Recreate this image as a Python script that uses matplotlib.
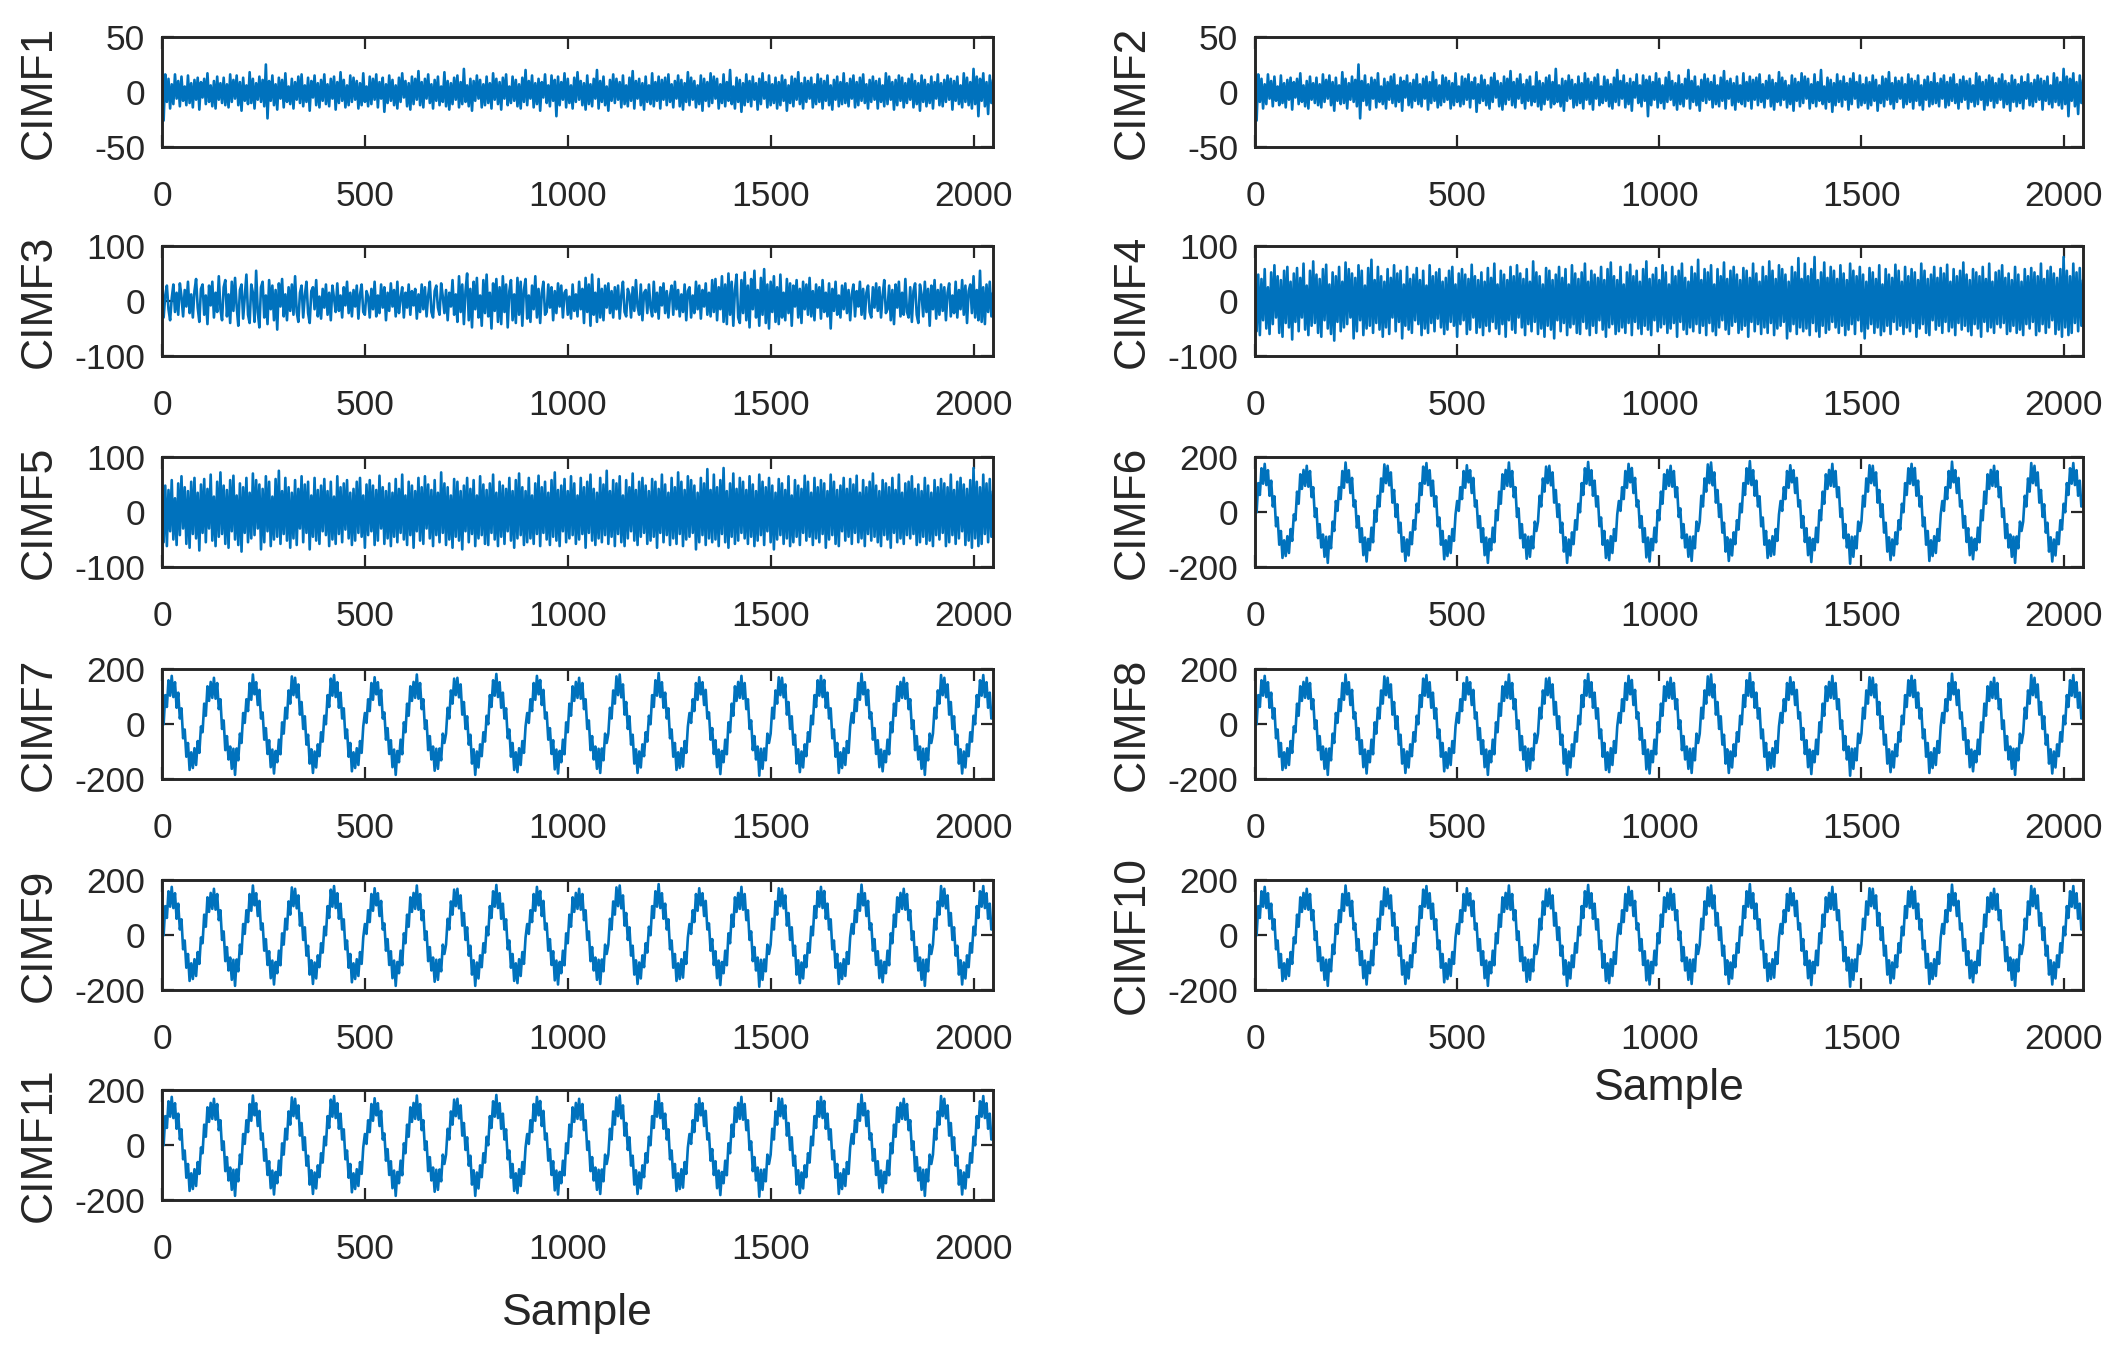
import numpy as np
import matplotlib.pyplot as plt

# sample spacing of the hand-read value lists
STEP = 4

# CIMF1 / CIMF2 (they look the same in the figure), one value every 4 samples
cimf12_vals = [
    22, -26, 16, -9, 12, -15, 7, -11, 16, -6, 10, -13, 14, -8, 5, -12, 15, -10, 8, -14,
    11, -7, 13, -16, 9, -5, 12, -11, 17, -9, 6, -13, 10, -15, 14, -7, 8, -10, 13, -12,
    7, -14, 16, -9, 11, -6, 15, -12, 9, -17, 13, -8, 6, -11, 18, -10, 12, -15, 8, -7,
    14, -9, 11, -13, 25, -24, 10, -8, 15, -12, 7, -16, 13, -6, 11, -14, 17, -9, 5, -11,
    12, -15, 9, -7, 14, -10, 16, -13, 6, -9, 13, -17, 10, -5, 15, -12, 8, -14, 11, -8,
    16, -11, 7, -13, 12, -6, 14, -16, 9, -10, 18, -8, 11, -14, 6, -12, 15, -9, 13, -7,
    10, -15, 8, -12, 17, -9, 5, -13, 14, -11, 12, -7, 16, -14, 9, -6, 13, -18, 7, -10,
    15, -8, 11, -12, 6, -15, 13, -9, 17, -5, 10, -13, 8, -16, 14, -11, 12, -7, 19, -12,
    9, -14, 12, -6, 16, -10, 7, -15, 11, -8, 14, -12, 5, -9, 18, -13, 10, -16, 8, -11,
    13, -7, 15, -14, 9, -11, 21, -9, 6, -13, 12, -17, 10, -8, 15, -6, 11, -14, 7, -12,
    14, -10, 8, -15, 17, -7, 12, -11, 9, -16, 13, -6, 16, -12, 5, -10, 14, -8, 11, -13,
    7, -15, 13, -9, 20, -12, 10, -6, 15, -14, 8, -11, 12, -17, 9, -5, 16, -10, 6, -13,
    15, -8, 11, -22, 14, -12, 9, -7, 17, -14, 12, -10, 6, -15, 13, -9, 18, -7, 10, -12,
    8, -16, 15, -11, 7, -13, 12, -6, 20, -15, 10, -9, 14, -12, 5, -17, 11, -8, 16, -10,
    12, -7, 9, -14, 15, -11, 6, -13, 13, -8, 19, -15, 10, -6, 12, -12, 8, -16, 14, -9,
    6, -11, 17, -13, 9, -8, 14, -15, 11, -7, 13, -12, 16, -9, 7, -14, 10, -6, 15, -13,
    11, -16, 8, -9, 18, -12, 13, -7, 10, -14, 6, -11, 15, -17, 12, -8, 9, -13, 17, -10,
    14, -6, 12, -15, 7, -10, 16, -13, 9, -8, 20, -11, 5, -15, 13, -9, 11, -18, 8, -12,
    16, -9, 10, -13, 14, -7, 8, -16, 12, -11, 17, -6, 9, -14, 15, -12, 7, -10, 13, -15,
    9, -12, 15, -8, 11, -17, 6, -10, 14, -13, 12, -7, 18, -11, 8, -15, 13, -9, 10, -6,
    13, -14, 7, -11, 16, -9, 12, -15, 10, -8, 15, -12, 6, -16, 11, -7, 14, -13, 9, -11,
    17, -10, 8, -13, 12, -6, 15, -14, 9, -12, 13, -8, 16, -10, 7, -15, 11, -9, 14, -7,
    10, -15, 12, -9, 6, -13, 17, -11, 14, -7, 9, -16, 11, -12, 15, -8, 13, -14, 8, -10,
    12, -7, 16, -14, 10, -11, 8, -17, 15, -9, 11, -13, 7, -10, 14, -15, 9, -6, 16, -12,
    8, -13, 11, -9, 15, -7, 12, -16, 10, -8, 14, -11, 6, -14, 17, -9, 13, -12, 9, -15,
    21, -11, 14, -22, 12, -8, 17, -13, 9, -20, 15, -10, 11, -7, 13, -9, 12, -14, 10, -8,
]

# CIMF3, one value every 4 samples
cimf3_vals = [
    25, -30, 10, 28, -15, -35, 5, 30, -20, 15, -25, 32, 8, -28, 20, -10, 35, -22, 12, -30,
    18, 40, -12, -38, 22, 30, -25, 10, -42, 28, -8, 35, -30, 15, -20, 45, -15, -35, 25, 38,
    -28, 12, -40, 35, -18, 42, -10, -45, 20, 30, -32, 8, 48, -25, -40, 30, 15, -38, 55, -20,
    -48, 25, 35, -30, 10, -42, 38, -15, 28, -35, 20, -52, 32, -10, 40, -28, 12, -35, 25, -18,
    30, -25, 45, -20, -38, 15, 28, -30, 10, 35, -22, -40, 18, 25, -15, 38, -28, 8, -32, 22,
    -12, 30, -25, 15, -35, 28, 5, -20, 32, -18, 10, -30, 25, -8, 35, -22, 15, -28, 20, -10,
    28, -32, 12, 30, -20, -25, 18, 8, -30, 22, -15, 35, -28, 10, -22, 30, -12, 25, -35, 15,
    -18, 32, -10, 20, -28, 35, -22, 5, 25, -30, 15, -12, 30, -25, 18, -8, 22, -32, 12, -20,
    30, -15, 25, -28, 10, 35, -20, -30, 18, 28, -12, -25, 32, 8, -22, 20, -35, 15, -10, 38,
    -25, 12, -38, 45, -20, 30, -42, 18, 50, -35, 22, -48, 35, -15, 42, -30, 10, -45, 38, -22,
    48, -28, 15, -50, 32, -18, 40, -38, 25, -42, 45, -20, 30, -48, 18, 38, -35, 12, -40, 42,
    -25, 35, -45, 20, 40, -32, 10, -38, 28, -15, 45, -30, 22, -40, 15, 35, -25, -20, 30, -12,
    25, -35, 18, -22, 32, -10, 28, -30, 15, 20, -25, 8, -32, 30, -18, 12, -28, 35, -15, 22,
    -40, 42, -20, 30, -45, 48, -25, 15, -38, 40, -30, 22, -35, 28, -12, 32, -22, 18, -30, 25,
    -15, 28, -32, 10, 35, -20, -28, 22, 12, -30, 25, -18, 38, -10, -25, 30, -35, 15, 20, -22,
    30, -12, -28, 35, -20, 15, -32, 25, -8, 32, -22, 18, -30, 10, 28, -25, 35, -15, 20, -28,
    12, -20, 30, -35, 18, 25, -30, 10, -22, 35, -15, 28, -32, 20, -10, 32, -25, 15, -28, 38,
    -20, 40, -35, 25, -15, 45, -38, 30, -42, 50, -25, 35, -45, 20, 48, -30, -40, 38, -22, 52,
    -35, 28, -48, 40, -15, 55, -30, 20, -45, 42, -25, 58, -40, 30, -50, 35, -20, 45, -38, 25,
    -42, 48, -30, 15, -35, 40, -22, 32, -45, 28, -10, 38, -30, 22, -40, 35, -15, 30, -25, 42,
    -28, 18, -35, 30, -12, 25, -32, 38, -20, 15, -28, 32, -50, 22, -18, 35, -25, 10, -30, 28,
    -15, 32, -22, 20, -35, 12, 30, -28, 18, -10, 35, -25, 22, -32, 15, 28, -20, -30, 25, -12,
    32, -18, 25, -30, 10, 38, -22, -15, 28, -35, 20, -42, 30, -12, 35, -28, 15, -25, 40, -20,
    -30, 25, -38, 18, 32, -25, -40, 30, 12, -28, 35, -20, 22, -45, 28, -15, 38, -32, 20, -25,
    30, -18, 25, -35, 15, 32, -28, 10, -22, 35, -30, 20, -15, 38, -25, 28, -40, 18, 30, -22,
    45, -30, 20, -35, 55, -38, 25, -42, 30, -20, 35, -28, 15, -30, 20, -10, 25, -15, 10, -5,
]

# CIMF4 / CIMF5 (same pattern in the figure), one value every 4 samples
cimf45_vals = [
    30, -55, 48, -62, 40, -35, 58, -50, 25, -60, 52, -42, 65, -30, 45, -58, 38, -65, 55, -40,
    62, -48, 35, -70, 50, -38, 60, -55, 42, -30, 68, -52, 28, -62, 55, -45, 72, -40, 48, -58,
    40, -65, 58, -35, 66, -50, 30, -60, 52, -72, 45, -38, 62, -55, 35, -48, 70, -42, 58, -30,
    50, -68, 42, -55, 65, -35, 55, -62, 28, -50, 60, -45, 75, -58, 38, -40, 62, -52, 45, -65,
    35, -48, 58, -60, 42, -30, 65, -55, 50, -38, 55, -68, 30, -45, 62, -52, 40, -58, 48, -35,
    60, -42, 38, -62, 55, -50, 28, -58, 65, -40, 45, -55, 52, -32, 58, -48, 35, -60, 42, -52,
    55, -38, 62, -45, 30, -65, 50, -42, 58, -35, 48, -60, 40, -52, 66, -30, 45, -58, 38, -48,
    52, -62, 35, -45, 60, -55, 42, -38, 68, -50, 30, -60, 55, -42, 48, -65, 38, -35, 62, -52,
    45, -58, 65, -30, 50, -48, 40, -62, 58, -42, 35, -55, 72, -38, 52, -60, 45, -50, 30, -65,
    60, -45, 55, -52, 38, -68, 48, -35, 62, -55, 42, -40, 58, -62, 30, -48, 65, -42, 50, -58,
    40, -60, 52, -38, 68, -50, 35, -62, 55, -45, 48, -58, 42, -35, 62, -52, 38, -65, 58, -48,
    70, -42, 45, -60, 38, -55, 62, -48, 30, -58, 52, -40, 66, -62, 45, -38, 55, -50, 35, -60,
    58, -45, 72, -52, 40, -62, 48, -35, 60, -55, 38, -48, 65, -42, 52, -58, 30, -50, 62, -40,
    45, -65, 55, -38, 68, -52, 42, -60, 35, -48, 62, -55, 50, -42, 75, -58, 38, -45, 58, -62,
    52, -40, 65, -55, 30, -62, 58, -48, 45, -35, 70, -52, 40, -60, 55, -45, 62, -38, 48, -58,
    38, -52, 60, -45, 55, -65, 42, -38, 68, -55, 50, -42, 35, -60, 62, -48, 45, -58, 72, -40,
    55, -62, 40, -50, 65, -45, 58, -38, 48, -68, 35, -55, 62, -42, 52, -60, 78, -48, 40, -55,
    68, -50, 45, -62, 58, -40, 80, -55, 38, -65, 52, -45, 70, -58, 42, -52, 62, -38, 55, -48,
    40, -58, 65, -45, 50, -62, 38, -52, 68, -42, 55, -60, 45, -35, 62, -55, 48, -68, 35, -50,
    60, -42, 52, -58, 40, -48, 65, -62, 30, -55, 58, -45, 48, -60, 42, -38, 66, -52, 55, -45,
    35, -60, 62, -48, 45, -55, 58, -40, 52, -65, 38, -50, 68, -42, 55, -58, 40, -62, 48, -35,
    62, -52, 42, -45, 60, -58, 50, -38, 66, -55, 35, -48, 58, -62, 45, -40, 55, -52, 70, -45,
    48, -55, 38, -62, 58, -42, 52, -50, 45, -65, 62, -38, 40, -55, 68, -48, 35, -58, 52, -42,
    55, -48, 65, -40, 42, -60, 50, -55, 38, -45, 62, -58, 48, -52, 35, -62, 58, -42, 45, -50,
    60, -38, 52, -62, 45, -55, 68, -42, 40, -58, 55, -48, 62, -35, 50, -60, 42, -52, 58, -65,
    80, -48, 55, -62, 45, -58, 68, -40, 52, -55, 60, -45, 38, -50, 62, -42, 48, -55, 40, -50,
]

# CIMF6 ... CIMF11 (period ~100 samples, identical in the figure), one value every 4 samples
osc_vals = [
    30, -1, 105, 62, 159, 103, 175, 98, 152, 59, 114, 20, 57, -52, -20, -119, -69, -167, -103, -160, -88, -149, -62, -105, -9,
    -30, 74, 30, 137, 84, 153, 95, 168, 92, 149, 54, 90, -18, 13, -95, -44, -129, -82, -163, -90, -185, -89, -132, -35, -69,
    40, 4, 90, 47, 149, 88, 180, 108, 152, 69, 124, 20, 42, -57, -15, -109, -59, -157, -93, -180, -98, -139, -57, -110, 6,
    -35, 59, 20, 122, 74, 173, 105, 168, 97, 144, 34, 80, -18, 28, -75, -39, -144, -92, -178, -100, -158, -74, -117, -30, -64,
    30, -1, 105, 62, 165, 103, 178, 98, 152, 59, 114, 20, 57, -52, -20, -119, -69, -172, -103, -160, -88, -149, -62, -105, -9,
    40, 4, 90, 47, 149, 88, 170, 108, 152, 69, 124, 20, 42, -57, -15, -109, -59, -157, -93, -185, -98, -139, -57, -110, 6,
    -30, 74, 30, 137, 84, 153, 95, 180, 92, 149, 54, 90, -18, 13, -95, -44, -129, -82, -170, -90, -163, -89, -132, -35, -69,
    -35, 59, 20, 122, 74, 165, 105, 168, 97, 144, 34, 80, -18, 28, -75, -39, -144, -92, -185, -100, -158, -74, -117, -30, -64,
    30, -1, 105, 62, 159, 103, 182, 98, 152, 59, 114, 20, 57, -52, -20, -119, -69, -167, -103, -175, -88, -149, -62, -105, -9,
    40, 4, 90, 47, 149, 88, 175, 108, 160, 69, 124, 20, 42, -57, -15, -109, -59, -165, -93, -180, -98, -139, -57, -110, 6,
    -30, 74, 30, 137, 84, 153, 95, 168, 92, 149, 54, 90, -18, 13, -95, -44, -129, -82, -163, -90, -178, -89, -132, -35, -69,
    -35, 59, 20, 122, 74, 173, 105, 180, 97, 144, 34, 80, -18, 28, -75, -39, -144, -92, -178, -100, -158, -74, -117, -30, -64,
    30, -1, 105, 62, 159, 103, 185, 98, 152, 59, 114, 20, 57, -52, -20, -119, -69, -167, -103, -160, -88, -155, -62, -105, -9,
    40, 4, 90, 47, 149, 88, 170, 108, 152, 69, 124, 20, 42, -57, -15, -109, -59, -157, -93, -182, -98, -139, -57, -110, 6,
    -30, 74, 30, 137, 84, 153, 95, 175, 92, 149, 54, 90, -18, 13, -95, -44, -129, -82, -188, -90, -163, -89, -132, -35, -69,
    -35, 59, 20, 122, 74, 170, 105, 168, 97, 144, 34, 80, -18, 28, -75, -39, -144, -92, -175, -100, -158, -74, -117, -30, -64,
    30, -1, 105, 62, 159, 103, 175, 98, 160, 59, 114, 20, 57, -52, -20, -119, -69, -178, -103, -160, -88, -149, -62, -105, -9,
    40, 4, 90, 47, 149, 88, 183, 108, 152, 69, 124, 20, 42, -57, -15, -109, -59, -157, -93, -172, -98, -139, -57, -110, 6,
    -30, 74, 30, 137, 84, 153, 95, 168, 92, 149, 54, 90, -18, 13, -95, -44, -129, -82, -163, -90, -185, -89, -132, -35, -69,
    -35, 59, 20, 122, 74, 178, 105, 168, 97, 144, 34, 80, -18, 28, -75, -39, -144, -92, -180, -100, -158, -74, -117, -30, -64,
    30, -1, 105, 62, 159, 103, 178, 98, 152, 59, 114, 20, 40,
]

panel_names = ["CIMF1", "CIMF2", "CIMF3", "CIMF4", "CIMF5", "CIMF6",
               "CIMF7", "CIMF8", "CIMF9", "CIMF10", "CIMF11"]
panel_values = [cimf12_vals, cimf12_vals, cimf3_vals, cimf45_vals, cimf45_vals,
                osc_vals, osc_vals, osc_vals, osc_vals, osc_vals, osc_vals]
panel_ylim = [50, 50, 100, 100, 100, 200, 200, 200, 200, 200, 200]
x_ticks = [0, 500, 1000, 1500, 2000]
n_samples = 2048

line_color = "#0072BD"
ink = "#262626"

plt.rcParams["font.family"] = ["Liberation Sans", "DejaVu Sans"]
plt.rcParams["axes.unicode_minus"] = False

W, H = 2117, 1364
fig = plt.figure(figsize=(W / 100, H / 100), dpi=100)

col_left = [162, 1255]
col_width = [831, 828]
row_top = [37, 246, 457, 669, 880, 1090]
ax_h = 110

axes = []
for i, name in enumerate(panel_names):
    col = i % 2
    row = i // 2
    rect = [col_left[col] / W, 1 - (row_top[row] + ax_h) / H,
            col_width[col] / W, ax_h / H]
    ax = fig.add_axes(rect)
    vals = np.array(panel_values[i], dtype=float)
    x = np.arange(len(vals)) * STEP
    ax.plot(x, vals, color=line_color, lw=1.9)
    lim = panel_ylim[i]
    ax.set_xlim(0, n_samples)
    ax.set_ylim(-lim, lim)
    ax.set_xticks(x_ticks)
    ax.set_yticks([-lim, 0, lim])
    ax.tick_params(direction="in", length=8.5, width=1.6, colors=ink,
                   top=True, right=True, labelsize=25.5)
    ax.tick_params(axis="x", pad=24)
    ax.tick_params(axis="y", pad=12)
    for sp in ax.spines.values():
        sp.set_linewidth(2.1)
        sp.set_color(ink)
    ax.set_ylabel(name, fontsize=32, color=ink)
    ax.yaxis.set_label_coords(-0.123, 0.5)
    axes.append(ax)

# x labels under the last panel of each column
axes[10].set_xlabel("Sample", fontsize=32, color=ink)
axes[10].xaxis.set_label_coords(0.5, -0.85)
axes[9].set_xlabel("Sample", fontsize=32, color=ink)
axes[9].xaxis.set_label_coords(0.5, -0.71)

fig.savefig("out.png", dpi=100)
